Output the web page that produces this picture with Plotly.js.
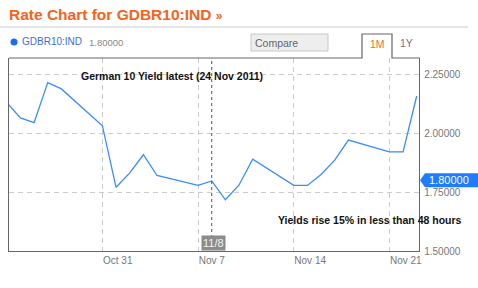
<!DOCTYPE html>
<html>
<head>
<meta charset="utf-8">
<script src="https://cdn.plot.ly/plotly-3.0.1.min.js"></script>
<style>html,body{margin:0;padding:0;background:#fff;}#chart{width:478px;height:288px;}</style>
</head>
<body>
<div id="chart"></div>
<script>
// ---- data ----
const dates = ['2011-10-24','2011-10-25','2011-10-26','2011-10-27','2011-10-28',
  '2011-10-31','2011-11-01','2011-11-02','2011-11-03','2011-11-04',
  '2011-11-07','2011-11-08','2011-11-09','2011-11-10','2011-11-11',
  '2011-11-14','2011-11-15','2011-11-16','2011-11-17','2011-11-18',
  '2011-11-21','2011-11-22','2011-11-23'];
const yields = [2.130,2.064,2.044,2.214,2.187,
  2.031,1.770,1.831,1.908,1.820,
  1.778,1.797,1.717,1.780,1.889,
  1.778,1.778,1.824,1.885,1.970,
  1.920,1.920,2.157];
const xTickVals = ['2011-10-31','2011-11-07','2011-11-14','2011-11-21'];
const xTickText = ['Oct 31','Nov 7','Nov 14','Nov 21'];
const yTickVals = [1.50,1.75,2.00,2.25];
const latestValue = 1.80;
const crosshairDate = '2011-11-08';
const crosshairLabel = '11/8';
const ticker = 'GDBR10:IND';
const noteTop = 'German 10 Yield latest (24 Nov 2011)';
const noteBottom = 'Yields rise 15% in less than 48 hours';

// ---- layout helpers (pixel -> paper) ----
const L = 9, R = 419, T = 58, B = 251;
const px = x => (x - L) / (R - L);
const py = y => (B - y) / (B - T);
const FONT = 'Arial, "Liberation Sans", sans-serif';

const trace = {
  x: dates, y: yields, type: 'scatter', mode: 'lines',
  line: {color: '#3a8cff', width: 1.3}, hoverinfo: 'skip', showlegend: false
};

const shapes = [
  {type:'line', xref:'paper', yref:'paper', x0:px(0), x1:px(468), y0:py(27), y1:py(27),
   line:{color:'#cccccc', width:1}},
  {type:'path', xref:'paper', yref:'paper',
   path:`M${px(9)},${py(58)} L${px(362)},${py(58)} L${px(362)},${py(34)} L${px(392)},${py(34)} L${px(392)},${py(58)} L${px(419.5)},${py(58)}`,
   line:{color:'#666666', width:1.2}},
  {type:'rect', xref:'paper', yref:'paper', x0:px(251), x1:px(328), y0:py(34), y1:py(51),
   fillcolor:'#eeeeee', line:{color:'#c8c8c8', width:1}},
  {type:'line', xref:'x', yref:'paper', x0:crosshairDate, x1:crosshairDate, y0:py(238), y1:1,
   line:{color:'#555555', width:1, dash:'dot'}},
  {type:'path', xref:'paper', yref:'y', xsizemode:'pixel', ysizemode:'pixel',
   xanchor:1, yanchor:latestValue,
   path:'M1,0 L6,-7 L60,-7 L60,7 L6,7 Z', fillcolor:'#1e7dff', line:{width:0}},
  {type:'circle', xref:'paper', yref:'paper', x0:px(10.5), x1:px(17.5), y0:py(38.5), y1:py(45.5),
   fillcolor:'#1a6cf0', line:{width:0}}
];

const ann = (text, x, y, opts) => Object.assign({
  text, x, y, xref:'paper', yref:'paper', showarrow:false, xanchor:'left', yanchor:'middle',
  font:{family:FONT, size:10, color:'#666'}
}, opts || {});

const annotations = [
  ann(ticker, px(20), py(42), {font:{family:FONT, size:10, color:'#3a6fd8'}}),
  ann(latestValue.toFixed(5), px(86.5), py(42.5), {font:{family:FONT, size:9.5, color:'#888'}}),
  ann('Compare', px(252.5), py(43), {font:{family:FONT, size:10.5, color:'#666'}}),
  ann('1M', px(377), py(44), {xanchor:'center', font:{family:FONT, size:10.5, color:'#ff6a2a'}}),
  ann('1Y', px(406), py(43), {xanchor:'center', font:{family:FONT, size:10.5, color:'#7f6a8a'}}),
  ann(noteTop, px(79), py(75.5), {font:{family:FONT, size:10.5, color:'#111', weight:'bold'}}),
  ann(noteBottom, px(276), py(219.5), {font:{family:FONT, size:10.5, color:'#111', weight:'bold'}}),
  {text:crosshairLabel, x:crosshairDate, xref:'x', y:0, yref:'paper', yanchor:'bottom', xanchor:'center',
   xshift:1.5, showarrow:false, bgcolor:'#8c8c8c', borderpad:1, font:{family:FONT, size:11, color:'#f2f2f2'}},
  {text:latestValue.toFixed(5), x:px(449), xref:'paper', y:latestValue, yref:'y',
   xanchor:'center', yanchor:'middle', showarrow:false, font:{family:FONT, size:11, color:'#ffffff'}}
];

const layout = {
  width:478, height:288, autosize:false,
  margin:{l:L, r:478-R, t:T, b:288-B, pad:0},
  paper_bgcolor:'#ffffff', plot_bgcolor:'#ffffff',
  font:{family:FONT, size:10, color:'#777'},
  title:{text:'Rate Chart for GDBR10:IND <span style="font-size:12px">»</span>',
    xref:'container', yref:'container', x:9/478, xanchor:'left', y:1-14.5/288, yanchor:'middle',
    font:{family:FONT, size:15.5, color:'#f7631a', weight:'bold'}},
  xaxis:{type:'date', range:['2011-10-24 04:00','2011-11-23 04:00'],
    tickvals:xTickVals, ticktext:xTickText, ticks:'', ticklabelposition:'outside right',
    showgrid:true, gridcolor:'#cccccc', griddash:'5px,4px', gridwidth:1,
    showline:true, linecolor:'#666666', linewidth:1.2, zeroline:false,
    tickfont:{family:FONT, size:10, color:'#777'}, fixedrange:true},
  yaxis:{range:[1.5,2.318], side:'right', tickvals:yTickVals, tickformat:'.5f', ticks:'',
    showgrid:true, gridcolor:'#cccccc', griddash:'5px,4px', gridwidth:1,
    showline:true, mirror:true, linecolor:'#666666', linewidth:1.2, zeroline:false,
    ticklabelstandoff:2, tickfont:{family:FONT, size:10, color:'#777'}, fixedrange:true},
  shapes, annotations, showlegend:false
};

Plotly.newPlot('chart', [trace], layout, {staticPlot:true, displayModeBar:false});
</script>
</body>
</html>
